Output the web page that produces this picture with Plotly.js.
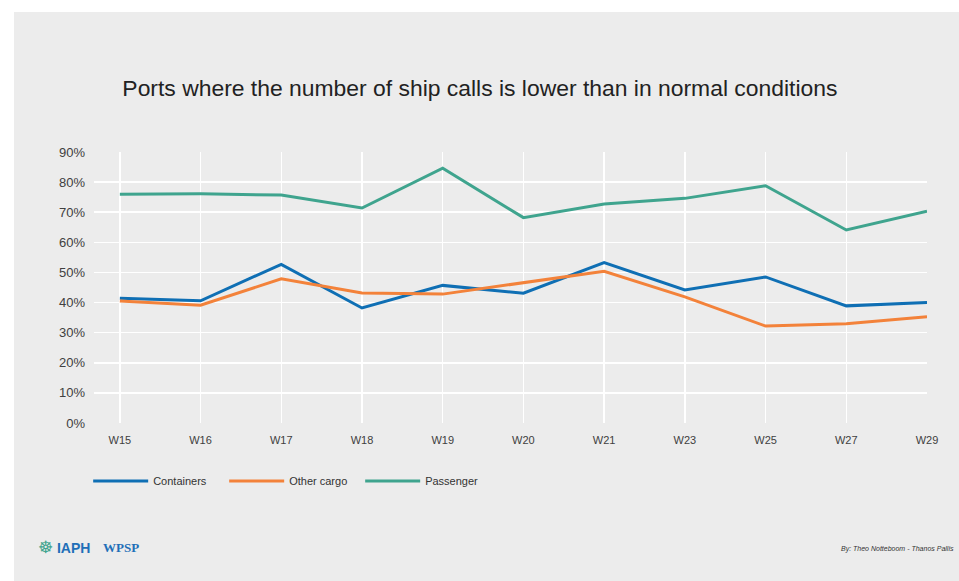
<!DOCTYPE html>
<html>
<head>
<meta charset="utf-8">
<script src="https://cdn.plot.ly/plotly-3.0.1.min.js"></script>
<style>
html,body{margin:0;padding:0;background:#ffffff;width:959px;height:581px;overflow:hidden;}
#chart{position:absolute;left:14px;top:12px;width:945px;height:569px;}
</style>
</head>
<body>
<div id="chart"></div>
<script>
var weeks = ["W15","W16","W17","W18","W19","W20","W21","W23","W25","W27","W29"];
var containers = [0.414,0.406,0.527,0.382,0.457,0.431,0.533,0.442,0.485,0.389,0.400];
var otherCargo = [0.405,0.391,0.479,0.432,0.428,0.466,0.504,0.419,0.322,0.330,0.353];
var passenger = [0.760,0.761,0.757,0.714,0.846,0.682,0.727,0.746,0.788,0.641,0.703];
var yTicks = [0,0.1,0.2,0.3,0.4,0.5,0.6,0.7,0.8,0.9];
var yTickText = ["0%","10%","20%","30%","40%","50%","60%","70%","80%","90%"];

var font = "Liberation Sans, Arial, sans-serif";
function tr(name, y, color){
  return {x: weeks, y: y, name: name, type: "scatter", mode: "lines",
          line: {color: color, width: 3}, hoverinfo: "skip"};
}
var data = [
  tr("Containers", containers, "#0F6FB4"),
  tr("Other cargo", otherCargo, "#F3823A"),
  tr("Passenger", passenger, "#3FA48E")
];
var layout = {
  width: 945, height: 569,
  paper_bgcolor: "#ECECEC", plot_bgcolor: "#ECECEC",
  margin: {l: 80, r: 32, t: 140, b: 158},
  font: {family: font, color: "#404040"},
  title: {text: "Ports where the number of ship calls is lower than in normal conditions",
          font: {family: font, size: 22.9, color: "#222222"},
          x: 0.493, xanchor: "center", y: 1 - 76/569, yanchor: "middle", yref: "container"},
  xaxis: {type: "category", range: [-0.32, 10], showgrid: true, gridcolor: "#FFFFFF", gridwidth: 1.5,
          zeroline: false, showline: false, ticks: "", tickfont: {size: 11, color: "#404040"},
          ticklabelstandoff: 9, fixedrange: true},
  yaxis: {range: [0, 0.9], tickvals: yTicks, ticktext: yTickText, showgrid: true,
          gridcolor: "#FFFFFF", gridwidth: 1.5, zeroline: false, showline: false,
          ticks: "", tickfont: {size: 13, color: "#404040"}, ticklabelstandoff: 8, fixedrange: true},
  legend: {orientation: "h", x: -0.007, xanchor: "left", y: -0.214, yanchor: "middle",
           font: {size: 11, color: "#333333"}, bgcolor: "rgba(0,0,0,0)",
           itemwidth: 55, entrywidth: 66, entrywidthmode: "pixels"},
  showlegend: true,
  annotations: [
    {xref: "paper", yref: "paper", x: -0.0696, y: -0.4576, xanchor: "left", yanchor: "middle",
     text: "<span style='color:#3FA48E;font-size:17px'>☸</span> <b>IAPH</b>", showarrow: false,
     font: {family: font, size: 14, color: "#1F6FB8"}},
    {xref: "paper", yref: "paper", x: 0.0084, y: -0.4576, xanchor: "left", yanchor: "middle",
     text: "<b>WPSP</b>", showarrow: false,
     font: {family: "Liberation Serif, serif", size: 13, color: "#1F6FB8"}},
    {xref: "paper", yref: "paper", x: 1.035, y: -0.465, xanchor: "right", yanchor: "middle",
     text: "<i>By: Theo Notteboom - Thanos Pallis</i>", showarrow: false,
     font: {family: font, size: 7, color: "#333333"}}
  ]
};
Plotly.newPlot("chart", data, layout, {displayModeBar: false, staticPlot: true});
</script>
</body>
</html>
